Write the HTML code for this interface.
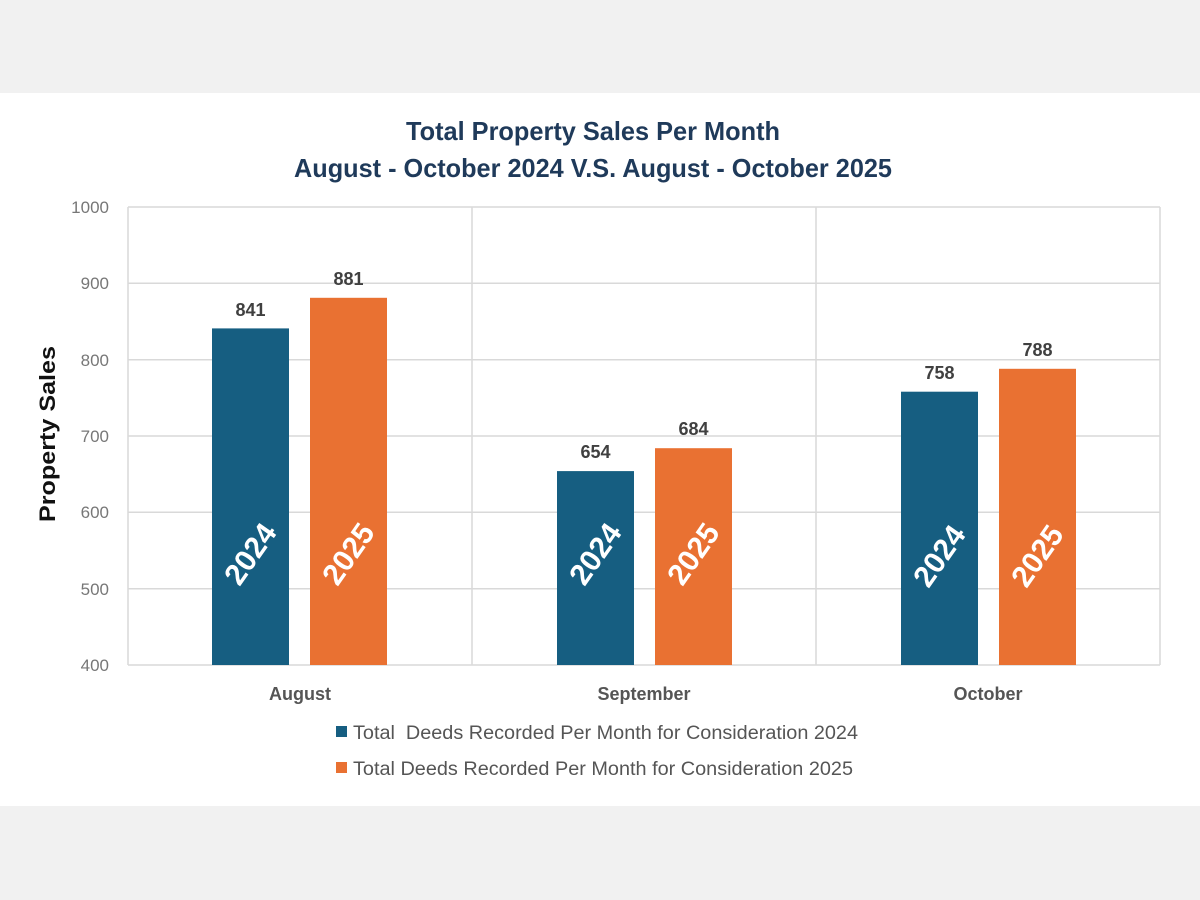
<!DOCTYPE html>
<html>
<head>
<meta charset="utf-8">
<style>
  html,body{margin:0;padding:0;background:#f1f1f1;}
  svg{display:block;}
  text{font-family:"Liberation Sans",sans-serif;}
</style>
</head>
<body>
<svg width="1200" height="900" viewBox="0 0 1200 900" xmlns="http://www.w3.org/2000/svg">
  <rect x="0" y="0" width="1200" height="900" fill="#f1f1f1"/>
  <rect x="0" y="93" width="1200" height="713" fill="#ffffff"/>

  <!-- Title -->
  <text x="593" y="140" text-anchor="middle" font-size="26" font-weight="bold" fill="#1f3a5a" textLength="374" lengthAdjust="spacingAndGlyphs">Total Property Sales Per Month</text>
  <text x="593" y="177" text-anchor="middle" font-size="26" font-weight="bold" fill="#1f3a5a" textLength="598" lengthAdjust="spacingAndGlyphs">August - October 2024 V.S. August - October 2025</text>

  <!-- Grid -->
  <g stroke="#d9d9d9" stroke-width="1.5" fill="none">
    <line x1="128" y1="207" x2="1160" y2="207"/>
    <line x1="128" y1="283.3" x2="1160" y2="283.3"/>
    <line x1="128" y1="359.7" x2="1160" y2="359.7"/>
    <line x1="128" y1="436" x2="1160" y2="436"/>
    <line x1="128" y1="512.3" x2="1160" y2="512.3"/>
    <line x1="128" y1="588.7" x2="1160" y2="588.7"/>
    <line x1="128" y1="665" x2="1160" y2="665"/>
    <line x1="128" y1="207" x2="128" y2="665"/>
    <line x1="472" y1="207" x2="472" y2="665"/>
    <line x1="816" y1="207" x2="816" y2="665"/>
    <line x1="1160" y1="207" x2="1160" y2="665"/>
  </g>

  <!-- Y tick labels -->
  <g font-size="17" fill="#777777" text-anchor="end">
    <text x="109" y="213">1000</text>
    <text x="109" y="289">900</text>
    <text x="109" y="366">800</text>
    <text x="109" y="442">700</text>
    <text x="109" y="518">600</text>
    <text x="109" y="595">500</text>
    <text x="109" y="671">400</text>
  </g>

  <!-- Y axis title -->
  <text transform="translate(55,434) rotate(-90)" text-anchor="middle" font-size="22" font-weight="bold" fill="#111111" textLength="176" lengthAdjust="spacingAndGlyphs">Property Sales</text>

  <!-- Bars -->
  <g>
    <rect x="212" y="328.4" width="77" height="336.6" fill="#165e81"/>
    <rect x="310" y="297.8" width="77" height="367.2" fill="#e97132"/>
    <rect x="557" y="471.1" width="77" height="193.9" fill="#165e81"/>
    <rect x="655" y="448.2" width="77" height="216.8" fill="#e97132"/>
    <rect x="901" y="391.7" width="77" height="273.3" fill="#165e81"/>
    <rect x="999" y="368.8" width="77" height="296.2" fill="#e97132"/>
  </g>

  <!-- Data labels -->
  <g font-size="18" font-weight="bold" fill="#404040" text-anchor="middle">
    <text x="250.5" y="316">841</text>
    <text x="348.5" y="285">881</text>
    <text x="595.5" y="458">654</text>
    <text x="693.5" y="435">684</text>
    <text x="939.5" y="379">758</text>
    <text x="1037.5" y="356">788</text>
  </g>

  <!-- Rotated year labels -->
  <g font-size="30" font-weight="bold" fill="#ffffff" text-anchor="middle">
    <text transform="translate(250.5,554) rotate(-55)" dy="10">2024</text>
    <text transform="translate(348.5,554) rotate(-55)" dy="10">2025</text>
    <text transform="translate(595.5,554) rotate(-55)" dy="10">2024</text>
    <text transform="translate(693.5,554) rotate(-55)" dy="10">2025</text>
    <text transform="translate(939.5,556) rotate(-55)" dy="10">2024</text>
    <text transform="translate(1037.5,556) rotate(-55)" dy="10">2025</text>
  </g>

  <!-- Category labels -->
  <g font-size="18" font-weight="bold" fill="#555555" text-anchor="middle">
    <text x="300" y="700">August</text>
    <text x="644" y="700">September</text>
    <text x="988" y="700">October</text>
  </g>

  <!-- Legend -->
  <rect x="336" y="726" width="11" height="11" fill="#165e81"/>
  <text x="353" y="739" font-size="19" fill="#555555" textLength="505" lengthAdjust="spacingAndGlyphs" xml:space="preserve">Total  Deeds Recorded Per Month for Consideration 2024</text>
  <rect x="336" y="762" width="11" height="11" fill="#e97132"/>
  <text x="353" y="775" font-size="19" fill="#555555" textLength="500" lengthAdjust="spacingAndGlyphs">Total Deeds Recorded Per Month for Consideration 2025</text>
</svg>
</body>
</html>
